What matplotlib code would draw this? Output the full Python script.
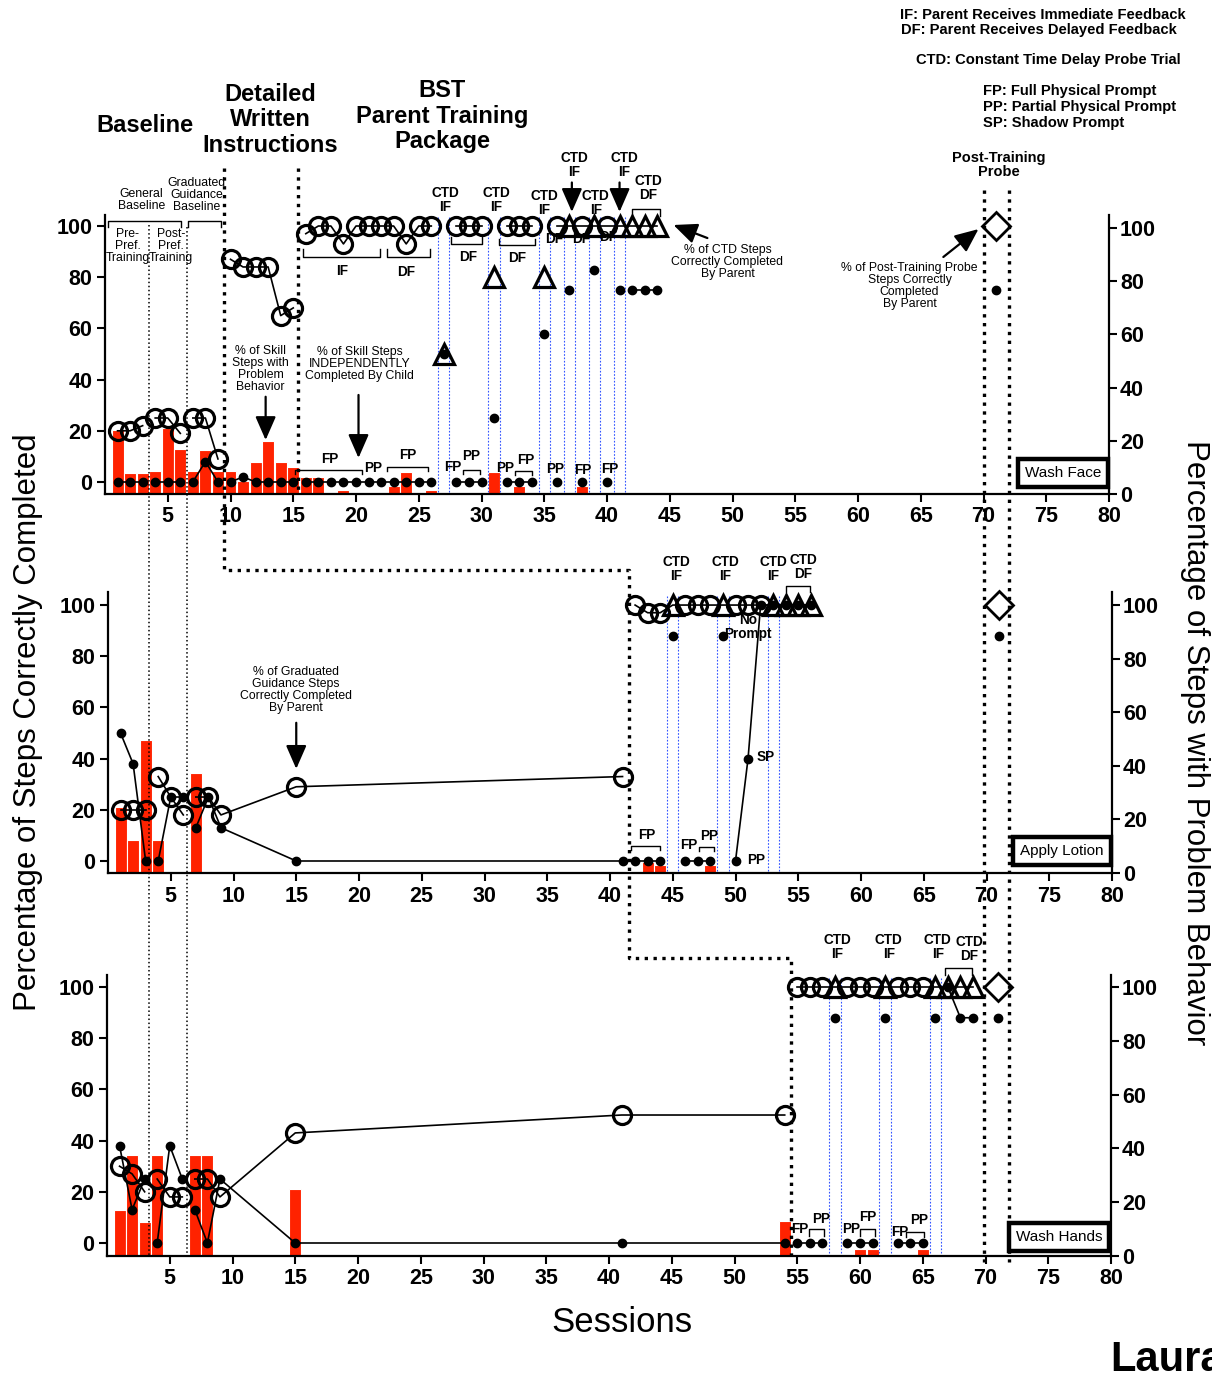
import numpy as np
import matplotlib
matplotlib.use('Agg')
import matplotlib.pyplot as plt
from matplotlib.lines import Line2D

plt.rcParams['font.family'] = ['Liberation Sans', 'DejaVu Sans']

W, H = 1212, 1379
RED = '#ff2200'
BLUE = '#3355ff'

# ---------------- Wash Face (top) ----------------
face_circ_segs = [([1, 2, 3], [20, 20, 22]),
                  ([4, 5, 6], [25, 25, 19]),
                  ([7, 8, 9], [25, 25, 9]),
                  ([10, 11, 12, 13, 14, 15], [87, 84, 84, 84, 65, 68]),
                  ([16, 17, 18, 19, 20, 21, 22, 23, 24, 25, 26],
                   [97, 100, 100, 93, 100, 100, 100, 100, 93, 100, 100]),
                  ([28, 29, 30], [100, 100, 100]),
                  ([32, 33, 34], [100, 100, 100])]
face_ctd_s = [27, 31, 35]
face_ctd_v = [50, 80, 80]
face_end_s = [36, 37, 38, 39, 40, 41, 42, 43, 44]
face_end_v = [100, 100, 100, 100, 100, 100, 100, 100, 100]
face_end_m = ['o', '^', 'o', '^', 'o', '^', '^', '^', '^']
face_dot_segs = [([1, 2, 3], [0, 0, 0]),
                 ([4, 5, 6], [0, 0, 0]),
                 ([7, 8, 9], [0, 8, 0]),
                 ([10, 11, 12, 13, 14, 15], [0, 2, 0, 0, 0, 0]),
                 ([16, 17, 18, 19, 20, 21, 22, 23, 24, 25, 26],
                  [0, 0, 0, 0, 0, 0, 0, 0, 0, 0, 0]),
                 ([28, 29, 30], [0, 0, 0]),
                 ([32, 33, 34], [0, 0, 0]),
                 ([42, 43, 44], [75, 75, 75])]
face_dot_single_s = [27, 31, 35, 36, 37, 38, 39, 40, 41, 71]
face_dot_single_v = [50, 25, 58, 0, 75, 0, 83, 0, 75, 75]
face_bar_s = [1, 2, 3, 4, 5, 6, 7, 8, 9, 10, 11, 12, 13, 14, 15, 16, 17, 19, 23, 24, 26, 31, 33, 38]
face_bar_v = [24, 8, 8, 8.5, 25, 17, 8.5, 16.5, 8.5, 8.5, 5, 12, 20, 12, 10, 6.5, 6.5, 1.5, 3, 8.4, 1.5, 8.4, 3, 3]
face_ctd_lines = [27, 31, 35, 37, 39, 41]

# ---------------- Apply Lotion (middle) ----------------
lot_circ_segs = [([1, 2, 3], [20, 20, 20]),
                 ([4, 5, 6], [33, 25, 18]),
                 ([7, 8, 9, 15, 41], [25, 25, 18, 29, 33])]
lot_end_s = [42, 43, 44, 45, 46, 47, 48, 49, 50, 51, 52, 53, 54, 55, 56]
lot_end_v = [100, 97, 97, 100, 100, 100, 100, 100, 100, 100, 100, 100, 100, 100, 100]
lot_end_m = ['o', 'o', 'o', '^', 'o', 'o', 'o', '^', 'o', 'o', 'o', '^', '^', '^', '^']
lot_dot_segs = [([1, 2, 3], [50, 38, 0]),
                ([4, 5, 6], [0, 25, 25]),
                ([7, 8, 9, 15, 41], [13, 25, 13, 0, 0]),
                ([42, 43, 44], [0, 0, 0]),
                ([46, 47, 48], [0, 0, 0]),
                ([50, 51, 52, 53, 54, 55, 56], [0, 40, 100, 100, 100, 100, 100])]
lot_dot_single_s = [45, 49, 71]
lot_dot_single_v = [88, 88, 88]
lot_bar_s = [1, 2, 3, 4, 7, 43, 44, 48]
lot_bar_v = [24.7, 12.3, 49.6, 12.3, 37.4, 4.2, 3, 3]
lot_ctd_lines = [45, 49, 53]

# ---------------- Wash Hands (bottom) ----------------
hand_circ_segs = [([1, 2, 3], [30, 27, 20]),
                  ([4, 5, 6], [25, 18, 18]),
                  ([7, 8, 9, 15, 41, 54], [25, 25, 18, 43, 50, 50])]
hand_end_s = [55, 56, 57, 58, 59, 60, 61, 62, 63, 64, 65, 66, 67, 68, 69]
hand_end_v = [100, 100, 100, 100, 100, 100, 100, 100, 100, 100, 100, 100, 100, 100, 100]
hand_end_m = ['o', 'o', 'o', '^', 'o', 'o', 'o', '^', 'o', 'o', 'o', '^', '^', '^', '^']
hand_dot_segs = [([1, 2, 3], [38, 13, 25]),
                 ([4, 5, 6], [0, 38, 25]),
                 ([7, 8, 9, 15, 41, 54], [13, 0, 25, 0, 0, 0]),
                 ([55, 56, 57], [0, 0, 0]),
                 ([59, 60, 61], [0, 0, 0]),
                 ([63, 64, 65], [0, 0, 0]),
                 ([67, 68, 69], [100, 88, 88])]
hand_dot_single_s = [58, 62, 66, 71]
hand_dot_single_v = [88, 88, 88, 88]
hand_bar_s = [1, 2, 3, 4, 7, 8, 15, 54, 60, 61, 65]
hand_bar_v = [17, 37.5, 12.6, 37.5, 37.5, 37.5, 25, 13, 2.6, 2.6, 2.6]
hand_ctd_lines = [58, 62, 66]

probe_s = [71]
probe_v = [100]

fig = plt.figure(figsize=(W / 100, H / 100), dpi=100)

MS_O = 13
MEW = 2.3


def make_panel(l, t, r, b, yl, yr):
    ax = fig.add_axes([l / W, 1 - b / H, (r - l) / W, (b - t) / H])
    tw = ax.twinx()
    ax.set_zorder(tw.get_zorder() + 1)
    ax.patch.set_visible(False)
    ax.set_xlim(0, 80)
    ax.set_ylim(*yl)
    tw.set_ylim(*yr)
    ax.set_xticks(range(5, 81, 5))
    ax.set_yticks(range(0, 101, 20))
    tw.set_yticks(range(0, 101, 20))
    for a in (ax, tw):
        a.spines['top'].set_visible(False)
        for s in a.spines.values():
            s.set_linewidth(1.6)
    ax.spines['right'].set_visible(False)
    tw.spines['left'].set_visible(False)
    tw.spines['bottom'].set_visible(False)
    ax.tick_params(direction='out', length=6, width=1.5, labelsize=15.5, pad=3)
    tw.tick_params(direction='out', length=6, width=1.5, labelsize=15.5, pad=2)
    for lab in ax.get_xticklabels() + ax.get_yticklabels() + tw.get_yticklabels():
        lab.set_fontweight('bold')
    return ax, tw


def mixed_line(ax, end_s, end_v, end_m):
    ax.plot(end_s, end_v, color='k', lw=1.2, zorder=3)
    for m in ('o', '^'):
        ss = [s for s, mm in zip(end_s, end_m) if mm == m]
        vv = [v for v, mm in zip(end_v, end_m) if mm == m]
        ax.plot(ss, vv, ls='none', marker=m, ms=MS_O + (1 if m == '^' else 0), mfc='none', mec='k',
                mew=MEW, zorder=3, clip_on=False)


def draw_panel(ax, tw, circ_segs, end_s, end_v, end_m, dot_segs, ds_s, ds_v, bar_s, bar_v, ctd_lines):
    tw.bar(bar_s, bar_v, width=0.95, color=RED, edgecolor='white', linewidth=0.8, zorder=1)
    for c in ctd_lines:
        for dx in (-0.45, 0.45):
            ax.plot([c + dx, c + dx], [-4, 104], color=BLUE, lw=0.8, ls=(0, (1.5, 1.5)), zorder=1)
    for s, v in circ_segs:
        ax.plot(s, v, color='k', lw=1.2, marker='o', ms=MS_O, mfc='none', mec='k', mew=MEW, zorder=3)
    if end_s:
        mixed_line(ax, end_s, end_v, end_m)
    for s, v in dot_segs:
        ax.plot(s, v, color='k', lw=1.2, marker='o', ms=6, mfc='k', mec='k', zorder=4)
    ax.plot(ds_s, ds_v, ls='none', marker='o', ms=6, mfc='k', mec='k', zorder=4)
    ax.plot(probe_s, probe_v, ls='none', marker='D', ms=14, mfc='white', mec='k', mew=2, zorder=4,
            clip_on=False)


def bracket(ax, x0, x1, y, tick, lw=1.0):
    ax.plot([x0, x0, x1, x1], [y - tick, y, y, y - tick], color='k', lw=lw, clip_on=False, zorder=5)


def lab(ax, x, y, s, size=9.8, weight='bold', **kw):
    ax.text(x, y, s, fontsize=size, fontweight=weight, ha='center', va='center',
            linespacing=1.0, zorder=6, **kw)


def arrow(ax, x0, y0, x1, y1):
    ax.annotate('', xy=(x1, y1), xytext=(x0, y0), annotation_clip=False,
                arrowprops=dict(arrowstyle='-|>,head_width=0.35,head_length=0.8', mutation_scale=18,
                                lw=1.6, color='k', shrinkA=0, shrinkB=0))


ax1, tw1 = make_panel(105, 215, 1109, 494, (-4.69, 104.3), (0, 104.9))
ax2, tw2 = make_panel(108, 592, 1112, 873, (-4.69, 105.1), (0, 104.85))
ax3, tw3 = make_panel(107, 975, 1111, 1256, (-5.08, 104.7), (0, 104.5))

draw_panel(ax1, tw1, face_circ_segs, face_end_s, face_end_v, face_end_m, face_dot_segs,
           face_dot_single_s, face_dot_single_v, face_bar_s, face_bar_v, face_ctd_lines)
ax1.plot(face_ctd_s, face_ctd_v, ls='none', marker='^', ms=MS_O + 1, mfc='none', mec='k', mew=MEW, zorder=3)
draw_panel(ax2, tw2, lot_circ_segs, lot_end_s, lot_end_v, lot_end_m, lot_dot_segs, lot_dot_single_s,
           lot_dot_single_v, lot_bar_s, lot_bar_v, lot_ctd_lines)
draw_panel(ax3, tw3, hand_circ_segs, hand_end_s, hand_end_v, hand_end_m, hand_dot_segs, hand_dot_single_s,
           hand_dot_single_v, hand_bar_s, hand_bar_v, hand_ctd_lines)

# ---- top panel labels
bracket(ax1, 0.24, 6.05, 102, 2.4)
bracket(ax1, 6.6, 9.25, 102, 2.4)
lab(ax1, 2.9, 110, 'General\nBaseline', size=8.8, weight='normal')
lab(ax1, 7.3, 112, 'Graduated\nGuidance\nBaseline', size=8.8, weight='normal')
lab(ax1, 1.8, 92, 'Pre-\nPref.\nTraining', size=8.8, weight='normal')
lab(ax1, 5.25, 92, 'Post-\nPref.\nTraining', size=8.8, weight='normal')

bracket(ax1, 15.8, 21.9, 88, -3)
lab(ax1, 18.9, 82.5, 'IF')
bracket(ax1, 22.5, 25.9, 88, -3)
lab(ax1, 24, 82, 'DF')
bracket(ax1, 27.6, 30.0, 93, -2.7)
lab(ax1, 28.9, 88, 'DF')
bracket(ax1, 31.4, 34.3, 92.6, -2.5)
lab(ax1, 32.8, 87.5, 'DF')
lab(ax1, 35.8, 95, 'DF')
lab(ax1, 37.9, 95, 'DF')
lab(ax1, 40.1, 95.7, 'DF')

for x, y in [(27.1, 110), (31.2, 110), (35.0, 109), (37.4, 124), (39.1, 109), (41.4, 124)]:
    lab(ax1, x, y, 'CTD\nIF')
lab(ax1, 43.3, 115, 'CTD\nDF')
bracket(ax1, 42.0, 44.2, 106.6, 2.6)
arrow(ax1, 37.2, 117, 37.2, 105.5)
arrow(ax1, 41.0, 117, 41.0, 105.5)

bracket(ax1, 15.1, 20.5, 4.7, 1.6)
lab(ax1, 17.9, 9, 'FP')
lab(ax1, 21.4, 5.5, 'PP')
bracket(ax1, 22.5, 25.7, 6, 1.7)
lab(ax1, 24.1, 10.5, 'FP')
lab(ax1, 27.7, 6, 'FP')
bracket(ax1, 28.5, 29.9, 4.7, 1.6)
lab(ax1, 29.2, 10, 'PP')
lab(ax1, 31.9, 5.5, 'PP')
bracket(ax1, 32.7, 34.0, 4.3, 1.5)
lab(ax1, 33.5, 8.6, 'FP')
lab(ax1, 35.9, 5, 'PP')
lab(ax1, 38.1, 4.7, 'FP')
lab(ax1, 40.2, 5, 'FP')

lab(ax1, 12.4, 44, '% of Skill\nSteps with\nProblem\nBehavior', size=8.8, weight='normal')
arrow(ax1, 12.8, 33.3, 12.8, 16.4)
lab(ax1, 20.3, 46, '% of Skill Steps\nINDEPENDENTLY\nCompleted By Child', size=8.8, weight='normal')
arrow(ax1, 20.2, 34, 20.2, 9.4)
lab(ax1, 49.6, 86, '% of CTD Steps\nCorrectly Completed\nBy Parent', size=8.8, weight='normal')
arrow(ax1, 48.0, 95.3, 45.3, 100.4)
lab(ax1, 64.1, 76.6, '% of Post-Training Probe\nSteps Correctly\nCompleted\nBy Parent', size=8.8,
    weight='normal')
arrow(ax1, 66.8, 87.9, 69.6, 98.8)

# ---- middle panel labels
for x in (45.3, 49.2, 53.0):
    lab(ax2, x, 114, 'CTD\nIF')
lab(ax2, 55.4, 115, 'CTD\nDF')
bracket(ax2, 54.0, 55.9, 107.4, 2.4)
lab(ax2, 51.0, 91.5, 'No\nPrompt')
ax2.text(51.7, 40.6, 'SP', fontsize=9.8, fontweight='bold', ha='left', va='center')
ax2.text(50.9, 0.5, 'PP', fontsize=9.8, fontweight='bold', ha='left', va='center')
bracket(ax2, 41.7, 44.0, 6, 1.7)
lab(ax2, 42.9, 10, 'FP')
lab(ax2, 46.3, 6.3, 'FP')
bracket(ax2, 47.1, 48.3, 5.6, 1.5)
lab(ax2, 47.9, 9.8, 'PP')
lab(ax2, 15.0, 67, '% of Graduated\nGuidance Steps\nCorrectly Completed\nBy Parent', size=8.8,
    weight='normal')
arrow(ax2, 15.0, 54, 15.0, 36)

# ---- bottom panel labels
for x in (58.2, 62.3, 66.2):
    lab(ax3, x, 115.8, 'CTD\nIF')
lab(ax3, 68.7, 114.7, 'CTD\nDF')
bracket(ax3, 66.8, 68.9, 107.4, 2.7)
lab(ax3, 55.2, 5.5, 'FP')
bracket(ax3, 55.9, 57.1, 5.5, 2.8)
lab(ax3, 56.9, 9.2, 'PP')
lab(ax3, 59.3, 5.5, 'PP')
bracket(ax3, 60.0, 61.2, 5.5, 2.8)
lab(ax3, 60.6, 10, 'FP')
lab(ax3, 63.2, 4.3, 'FP')
bracket(ax3, 63.7, 65.1, 4.3, 2.1)
lab(ax3, 64.7, 8.9, 'PP')


# ---- figure-level phase lines
def xpx(ax, x):
    return ax.transData.transform((x, 0))[0]


def fig_line(xs, ys, **kw):
    fig.add_artist(Line2D(np.array(xs) / W, 1 - np.array(ys) / H, transform=fig.transFigure,
                          color='k', **kw))


fig_line([xpx(ax1, 9.5)] * 2 + [xpx(ax2, 41.5)] * 2 + [xpx(ax3, 54.5)] * 2,
         [168, 570, 570, 958, 958, 1258], lw=2.4, ls=':')
fig_line([xpx(ax1, 15.35)] * 2, [168, 494], lw=2.4, ls=':')
for x in (70, 72):
    fig_line([xpx(ax1, x)] * 2, [190, 1262], lw=2.4, ls=':')
fig_line([xpx(ax1, 3.5)] * 2, [225, 1256], lw=1.1, ls=':')
fig_line([xpx(ax1, 6.5)] * 2, [227, 1256], lw=1.1, ls=':')


# ---- figure text
def ftext(x, y, s, **kw):
    fig.text(x / W, 1 - y / H, s, **kw)


ftext(145, 125, 'Baseline', fontsize=17, fontweight='bold', ha='center', va='center')
ftext(270, 120, 'Detailed\nWritten\nInstructions', fontsize=17, fontweight='bold', ha='center',
      va='center', linespacing=1.12)
ftext(442, 116, 'BST\nParent Training\nPackage', fontsize=17, fontweight='bold', ha='center',
      va='center', linespacing=1.12)
ftext(999, 165, 'Post-Training\nProbe', fontsize=10.5, fontweight='bold', ha='center', va='center',
      linespacing=1.0)

ftext(900, 15, 'IF: Parent Receives Immediate Feedback', fontsize=10.6, fontweight='bold', va='center')
ftext(901, 30, 'DF: Parent Receives Delayed Feedback', fontsize=10.6, fontweight='bold', va='center')
ftext(916, 60, 'CTD: Constant Time Delay Probe Trial', fontsize=10.6, fontweight='bold', va='center')
ftext(983, 91, 'FP: Full Physical Prompt', fontsize=10.6, fontweight='bold', va='center')
ftext(983, 107, 'PP: Partial Physical Prompt', fontsize=10.6, fontweight='bold', va='center')
ftext(983, 123, 'SP: Shadow Prompt', fontsize=10.6, fontweight='bold', va='center')

box = dict(boxstyle='square,pad=0.45', fc='white', ec='black', lw=3.2)
ftext(1063, 473, 'Wash Face', fontsize=11, ha='center', va='center', bbox=box)
ftext(1062, 851, 'Apply Lotion', fontsize=11, ha='center', va='center', bbox=box)
ftext(1059, 1237, 'Wash Hands', fontsize=11, ha='center', va='center', bbox=box)

ftext(28, 722, 'Percentage of Steps Correctly Completed', fontsize=22.5, rotation=90, ha='center',
      va='center')
ftext(1195, 743, 'Percentage of Steps with Problem Behavior', fontsize=22.5, rotation=-90, ha='center',
      va='center')
ftext(622, 1323, 'Sessions', fontsize=25, ha='center', va='center')
ftext(1110, 1360, 'Laura', fontsize=30, fontweight='bold', ha='left', va='center')

fig.savefig('out.png', dpi=100)
